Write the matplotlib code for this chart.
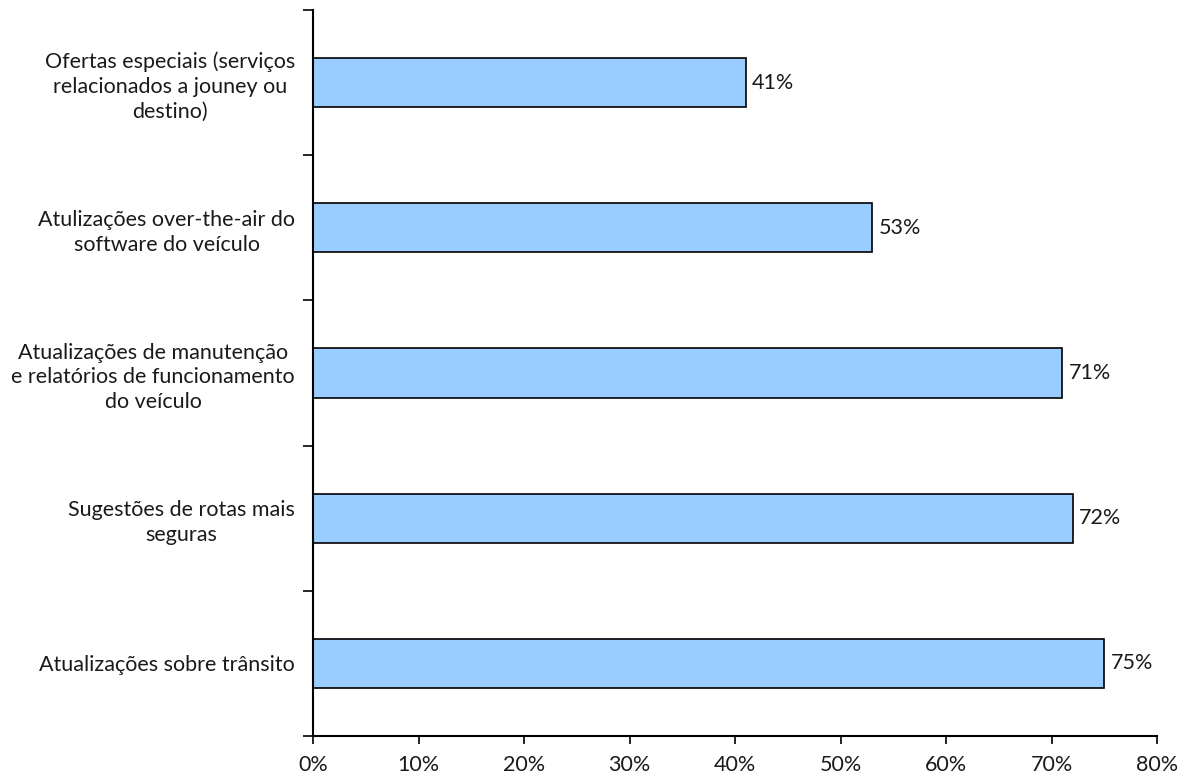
import matplotlib
matplotlib.use("Agg")
import matplotlib.pyplot as plt
from matplotlib.ticker import FuncFormatter

# Dados do gráfico (de cima para baixo)
categorias = [
    "Ofertas especiais (serviços\nrelacionados a jouney ou\ndestino)",
    "Atulizações over-the-air do\nsoftware do veículo",
    "Atualizações de manutenção\ne relatórios de funcionamento\ndo veículo",
    "Sugestões de rotas mais\nseguras",
    "Atualizações sobre trânsito",
]
valores = [41, 53, 71, 72, 75]
ticks_x = [0, 10, 20, 30, 40, 50, 60, 70, 80]

plt.rcParams['font.family'] = ['Lato', 'DejaVu Sans']
TAM = 15.5

fig = plt.figure(figsize=(11.89, 7.8), dpi=100)
ax = fig.add_axes([0.2633, 0.0564, 0.7098, 0.9308])

posicoes = list(range(len(categorias)))[::-1]
ax.barh(posicoes, valores, height=0.34, color='#99CCFF',
        edgecolor='black', linewidth=1.2)

for pos, v in zip(posicoes, valores):
    ax.text(v + 0.6, pos, f"{v}%", va='center', ha='left', fontsize=TAM,
            color='#1a1a1a')

ax.set_xlim(0, 80)
ax.set_ylim(-0.5, len(categorias) - 0.5)
ax.set_xticks(ticks_x)
ax.xaxis.set_major_formatter(FuncFormatter(lambda x, _: f"{int(x)}%"))

# Marcas do eixo y nas divisas entre categorias
ax.set_yticks([p - 0.5 for p in range(len(categorias) + 1)])
ax.set_yticklabels([])
ax.set_yticks(posicoes, minor=True)
ax.set_yticklabels(categorias, minor=True, fontsize=TAM, ha='right',
                   multialignment='center', color='#1a1a1a', linespacing=1.3)
ax.tick_params(axis='y', which='minor', length=0, pad=13)
ax.tick_params(axis='y', which='major', length=7, width=1.2, direction='out')
ax.tick_params(axis='x', length=6, width=1.2, direction='out', pad=8,
               labelsize=TAM, labelcolor='#1a1a1a')

for lado in ['top', 'right']:
    ax.spines[lado].set_visible(False)
for lado in ['left', 'bottom']:
    ax.spines[lado].set_linewidth(1.5)

fig.savefig("out.png", dpi=100, facecolor='white')
